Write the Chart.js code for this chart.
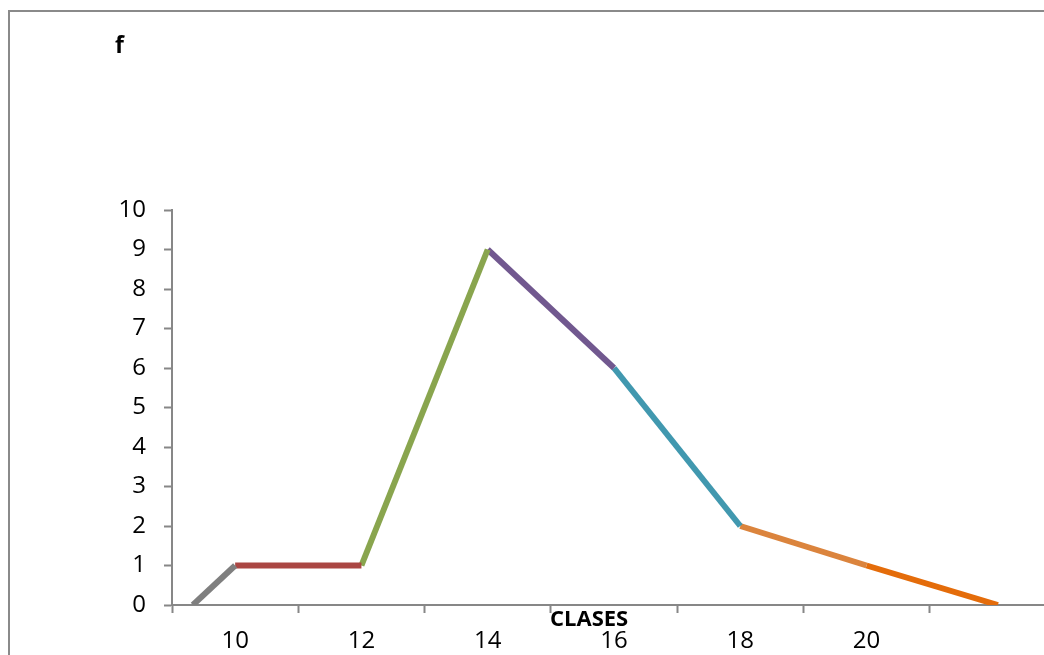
<!DOCTYPE html>
<html>
<head>
<meta charset="utf-8">
<script src="https://cdn.jsdelivr.net/npm/chart.js@4/dist/chart.umd.min.js"></script>
<style>
  html, body { margin: 0; padding: 0; background: #fff; overflow: hidden; width: 1044px; height: 655px; }
  #frame { position: absolute; left: 8px; top: 10px; width: 1200px; height: 800px;
           border-left: 2px solid #8a8a8a; border-top: 2px solid #8a8a8a; }
  #wrap { position: absolute; left: 0; top: 0; width: 1100px; height: 655px; }
</style>
</head>
<body>
<div id="frame"></div>
<div id="wrap"><canvas id="c" width="1100" height="655"></canvas></div>
<script>
// Data (frequency polygon)
const classMarks   = [9.33, 10, 12, 14, 16, 18, 20, 22.08];
const frequencies  = [0, 1, 1, 9, 6, 2, 1, 0];
const segmentColors = ['#7f7f7f', '#aa4643', '#89a54e', '#71588f', '#4198af', '#db843d', '#e46c0a'];
const xTickLabels  = ['10', '12', '14', '16', '18', '20'];
const yTickValues  = [0, 1, 2, 3, 4, 5, 6, 7, 8, 9, 10];
const yTitle = 'f';
const xTitle = 'CLASES';

const datasets = [];
for (let i = 0; i < classMarks.length - 1; i++) {
  datasets.push({
    data: [{x: classMarks[i], y: frequencies[i]}, {x: classMarks[i+1], y: frequencies[i+1]}],
    borderColor: segmentColors[i],
    backgroundColor: segmentColors[i],
    borderWidth: 6,
    borderCapStyle: 'butt',
    showLine: true,
    pointRadius: 0,
    fill: false
  });
}

const axisColor = '#878787';
const font = { family: "'Open Sans'", size: 24 };

const textPlugin = {
  id: 'texts',
  afterDraw(chart) {
    const ctx = chart.ctx;
    ctx.save();
    ctx.fillStyle = '#000';
    ctx.textBaseline = 'alphabetic';
    ctx.textAlign = 'left';
    ctx.font = "bold 23px 'Open Sans'";
    ctx.fillText(yTitle, 115, 53);
    ctx.font = "bold 22px 'Open Sans'";
    ctx.fillText(xTitle, 550, 626);
    ctx.restore();
  }
};

new Chart(document.getElementById('c'), {
  type: 'scatter',
  data: { datasets },
  plugins: [textPlugin],
  options: {
    responsive: false,
    animation: false,
    events: [],
    layout: { padding: { top: 210, right: 44, bottom: 0, left: 0 } },
    plugins: { legend: { display: false }, tooltip: { enabled: false } },
    scales: {
      x: {
        type: 'linear',
        min: 9, max: 23,
        afterBuildTicks(scale) {
          const t = [];
          for (let v = 9; v <= 23; v++) t.push({ value: v });
          scale.ticks = t;
        },
        afterFit(scale) { scale.height = 50; },
        border: { display: true, color: axisColor, width: 2 },
        grid: {
          drawOnChartArea: false,
          drawTicks: true,
          tickLength: 8,
          tickWidth: 2,
          tickColor: (c) => (c.tick && c.tick.value % 2 === 1) ? axisColor : 'rgba(0,0,0,0)',
          color: (c) => (c.tick && c.tick.value % 2 === 1) ? axisColor : 'rgba(0,0,0,0)'
        },
        ticks: {
          autoSkip: false,
          maxRotation: 0,
          minRotation: 0,
          padding: 14,
          color: '#000',
          font,
          callback: (v) => xTickLabels.includes(String(v)) ? String(v) : ''
        }
      },
      y: {
        type: 'linear',
        min: 0, max: 10,
        afterBuildTicks(scale) { scale.ticks = yTickValues.map(v => ({ value: v })); },
        afterFit(scale) { scale.width = 172; },
        border: { display: true, color: axisColor, width: 2 },
        grid: {
          drawOnChartArea: false,
          drawTicks: true,
          tickLength: 8,
          tickWidth: 2,
          tickColor: axisColor,
          color: axisColor
        },
        ticks: { padding: 18, color: '#000', font }
      }
    }
  }
});
</script>
</body>
</html>
